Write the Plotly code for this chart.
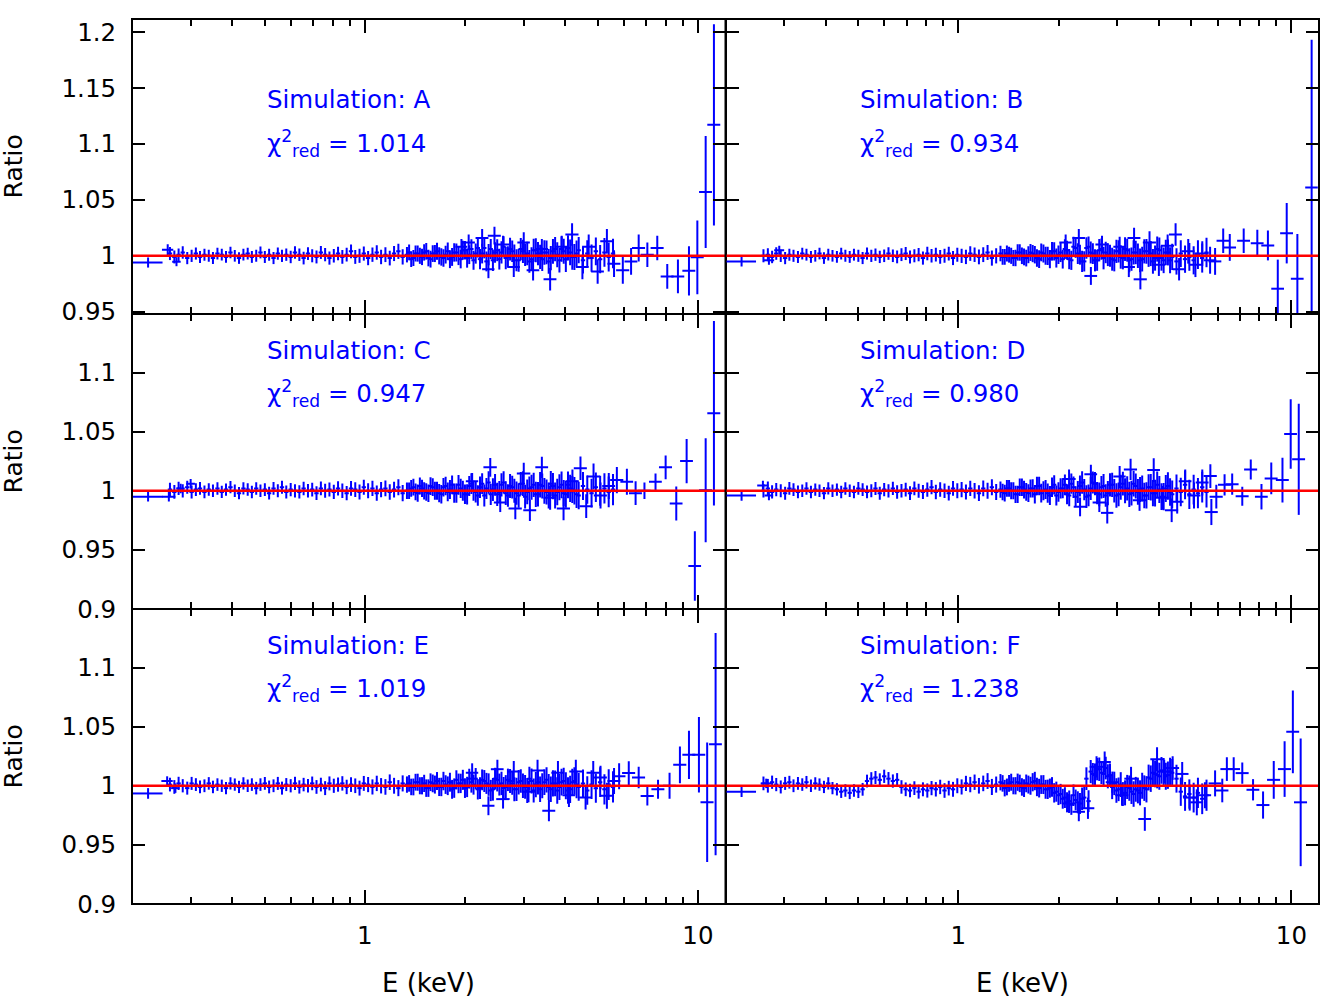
import plotly.graph_objects as go
from plotly.subplots import make_subplots

# ---------------- data ----------------
# fine energy grid (keV), bin centres
ENERGY = [
    0.260, 0.268, 0.276, 0.284, 0.293, 0.302, 0.311, 0.320, 0.330, 0.340,
    0.350, 0.361, 0.372, 0.383, 0.395, 0.407, 0.419, 0.432, 0.445, 0.458,
    0.472, 0.486, 0.501, 0.516, 0.532, 0.548, 0.564, 0.581, 0.599, 0.617,
    0.636, 0.655, 0.675, 0.695, 0.716, 0.738, 0.760, 0.783, 0.807, 0.831,
    0.856, 0.882, 0.909, 0.936, 0.964, 0.993, 1.023, 1.054, 1.086, 1.119,
    1.153, 1.188, 1.224, 1.261, 1.299, 1.338, 1.378, 1.420, 1.463, 1.507,
    1.552, 1.599, 1.647, 1.697, 1.748, 1.801, 1.855, 1.911, 1.969, 2.028,
    2.089, 2.152, 2.217, 2.284, 2.353, 2.424, 2.497, 2.572, 2.649, 2.729,
    2.811, 2.896, 2.983, 3.073, 3.166, 3.261, 3.359, 3.460, 3.564, 3.671,
    3.782, 3.896, 4.013, 4.134, 4.258, 4.386, 4.518, 4.654, 4.794, 4.938,
    5.087, 5.240, 5.397, 5.560,
]
BIN_HALF_WIDTH_FRAC = 0.015

FINE_ERR = [
    0.0058, 0.0058, 0.0056, 0.0056, 0.0055, 0.0055, 0.0054, 0.0054, 0.0054, 0.0053,
    0.0053, 0.0053, 0.0052, 0.0052, 0.0052, 0.0052, 0.0052, 0.0052, 0.0053, 0.0053,
    0.0053, 0.0053, 0.0054, 0.0054, 0.0054, 0.0055, 0.0055, 0.0055, 0.0056, 0.0056,
    0.0056, 0.0057, 0.0057, 0.0058, 0.0058, 0.0058, 0.0059, 0.0059, 0.0060, 0.0060,
    0.0061, 0.0061, 0.0062, 0.0062, 0.0063, 0.0063, 0.0064, 0.0064, 0.0065, 0.0065,
    0.0066, 0.0066, 0.0067, 0.0068, 0.0068, 0.0069, 0.0070, 0.0071, 0.0072, 0.0073,
    0.0074, 0.0075, 0.0076, 0.0078, 0.0079, 0.0080, 0.0082, 0.0083, 0.0085, 0.0086,
    0.0088, 0.0090, 0.0091, 0.0093, 0.0095, 0.0096, 0.0098, 0.0099, 0.0100, 0.0101,
    0.0102, 0.0103, 0.0104, 0.0105, 0.0106, 0.0107, 0.0108, 0.0109, 0.0110, 0.0111,
    0.0112, 0.0113, 0.0114, 0.0115, 0.0116, 0.0117, 0.0118, 0.0120, 0.0122, 0.0124,
    0.0126, 0.0128, 0.0130, 0.0132,
]

RATIO_A = [
    1.002, 0.999, 1.001, 1.003, 0.998, 1.000, 1.002, 0.999, 1.001, 1.000,
    0.998, 1.002, 1.001, 0.999, 1.003, 1.000, 0.998, 1.001, 1.002, 0.999,
    1.000, 1.003, 0.999, 1.001, 0.998, 1.002, 1.000, 1.001, 0.999, 1.003,
    1.001, 0.998, 1.002, 1.000, 0.999, 1.003, 1.001, 0.998, 1.000, 1.002,
    0.999, 1.001, 1.004, 0.999, 1.000, 1.002, 0.998, 1.001, 1.003, 0.999,
    1.001, 0.998, 1.002, 1.004, 0.999, 1.001, 0.997, 1.002, 1.000, 1.003,
    0.998, 1.002, 1.004, 0.999, 1.001, 0.997, 1.003, 1.000, 1.005, 0.998,
    1.006, 1.002, 0.997, 1.007, 1.001, 0.996, 1.005, 1.003, 0.998, 1.006,
    1.000, 0.996, 1.004, 1.002, 0.997, 1.005, 0.999, 1.003, 0.995, 1.004,
    1.001, 1.006, 0.997, 1.003, 0.999, 1.005, 0.996, 1.002, 0.998, 1.004,
    0.997, 1.003, 0.999, 1.002,
]
RATIO_B = [
    1.000, 1.001, 0.999, 1.002, 1.000, 0.998, 1.001, 1.000, 0.999, 1.002,
    1.001, 0.999, 1.000, 1.002, 0.998, 1.001, 1.000, 0.999, 1.002, 1.000,
    0.999, 1.001, 1.000, 0.998, 1.002, 1.000, 1.001, 0.999, 1.000, 1.002,
    1.000, 0.999, 1.001, 1.002, 0.999, 1.000, 1.001, 0.998, 1.002, 1.000,
    1.001, 0.999, 1.000, 1.002, 0.998, 1.001, 1.000, 0.999, 1.002, 1.001,
    0.999, 1.001, 1.003, 0.998, 1.000, 1.002, 0.999, 1.001, 0.998, 1.003,
    1.000, 0.998, 1.003, 1.001, 0.997, 1.002, 1.000, 1.004, 0.998, 1.003,
    1.006, 0.997, 1.008, 1.002, 0.995, 1.007, 1.003, 0.996, 1.005, 0.998,
    1.001, 0.997, 1.004, 0.999, 1.006, 0.996, 1.003, 1.000, 0.997, 1.004,
    1.002, 0.998, 1.005, 0.996, 1.003, 0.999, 0.995, 1.002, 0.997, 0.999,
    0.996, 1.001, 0.998, 1.003,
]
RATIO_C = [
    1.001, 0.999, 1.002, 1.000, 1.003, 0.999, 1.001, 1.002, 0.999, 1.001,
    1.000, 1.002, 0.999, 1.001, 1.003, 1.000, 0.998, 1.002, 1.001, 0.999,
    1.002, 1.000, 1.001, 0.998, 1.002, 1.000, 1.003, 0.999, 1.001, 1.000,
    0.999, 1.002, 1.000, 1.001, 0.998, 1.002, 1.000, 1.001, 0.999, 1.002,
    1.000, 0.998, 1.002, 1.001, 0.999, 1.003, 1.000, 1.002, 0.998, 1.001,
    1.002, 0.999, 1.001, 1.003, 0.998, 1.000, 1.002, 0.999, 1.004, 1.000,
    0.998, 1.003, 1.000, 0.997, 1.004, 1.001, 0.998, 1.005, 1.000, 0.997,
    1.006, 0.999, 1.003, 0.996, 1.007, 1.001, 0.997, 1.005, 0.998, 1.004,
    1.000, 0.996, 1.006, 0.999, 1.003, 0.997, 1.005, 1.000, 0.996, 1.004,
    0.999, 1.005, 0.997, 1.002, 1.000, 0.996, 1.004, 1.001, 0.998, 1.003,
    1.000, 1.002, 0.999, 1.001,
]
RATIO_D = [
    1.000, 1.002, 0.999, 1.001, 1.000, 0.998, 1.002, 1.001, 0.999, 1.000,
    1.002, 0.999, 1.001, 1.000, 0.998, 1.002, 1.000, 1.001, 0.999, 1.002,
    1.000, 0.999, 1.002, 1.001, 0.999, 1.000, 1.002, 0.998, 1.001, 1.000,
    1.002, 0.999, 1.000, 1.001, 0.998, 1.002, 1.000, 0.999, 1.001, 1.003,
    0.999, 1.001, 1.000, 0.998, 1.002, 1.000, 1.001, 0.999, 1.002, 1.000,
    0.998, 1.002, 1.000, 1.003, 0.999, 1.001, 0.998, 1.002, 1.000, 0.997,
    1.003, 0.999, 1.002, 0.997, 1.004, 1.000, 0.998, 1.003, 0.996, 1.002,
    1.005, 0.996, 1.003, 0.999, 1.007, 0.995, 1.002, 1.006, 0.997, 1.004,
    0.998, 1.005, 0.996, 1.003, 1.000, 0.997, 1.006, 0.999, 1.002, 0.996,
    1.003, 0.998, 1.001, 0.995, 1.004, 0.997, 1.002, 0.999, 1.005, 0.997,
    1.001, 0.998, 1.003, 0.999,
]
RATIO_E = [
    1.001, 0.999, 1.002, 1.000, 0.998, 1.002, 1.001, 0.999, 1.000, 1.002,
    0.999, 1.001, 1.000, 0.998, 1.002, 1.001, 0.999, 1.002, 1.000, 1.001,
    0.998, 1.001, 1.002, 0.999, 1.000, 1.002, 0.998, 1.001, 1.000, 1.002,
    0.999, 1.001, 1.000, 1.002, 0.999, 1.001, 0.998, 1.002, 1.000, 1.001,
    1.002, 0.999, 1.001, 1.000, 0.998, 1.002, 1.001, 0.999, 1.002, 1.000,
    0.999, 1.003, 1.000, 0.998, 1.002, 1.001, 0.999, 1.003, 1.000, 1.002,
    0.998, 1.002, 1.004, 0.999, 1.001, 1.003, 0.998, 1.002, 1.005, 0.999,
    1.003, 1.006, 0.998, 1.004, 1.001, 0.997, 1.005, 1.002, 0.999, 1.004,
    0.997, 1.003, 1.000, 0.996, 1.004, 1.001, 0.997, 1.003, 0.999, 1.002,
    0.996, 1.003, 1.000, 0.997, 1.004, 0.999, 1.002, 0.996, 1.001, 0.998,
    1.003, 0.997, 1.001, 0.999,
]
RATIO_F = [
    1.002, 1.000, 1.003, 1.001, 0.999, 1.002, 1.003, 1.000, 1.002, 1.001,
    1.003, 1.000, 1.002, 1.001, 0.999, 1.002, 0.998, 0.997, 0.995, 0.996,
    0.994, 0.996, 0.995, 0.997, 1.004, 1.006, 1.007, 1.005, 1.008, 1.006,
    1.004, 1.005, 0.999, 0.997, 0.996, 0.998, 0.995, 0.997, 0.996, 0.998,
    0.997, 0.999, 0.996, 0.998, 0.997, 1.000, 0.999, 1.002, 1.001, 1.003,
    1.000, 1.002, 1.004, 0.999, 1.001, 1.003, 0.998, 1.002, 1.000, 1.003,
    0.999, 1.002, 1.000, 1.004, 0.998, 1.001, 0.997, 0.999, 0.995, 0.993,
    0.990, 0.987, 0.992, 0.986, 0.989, 1.006, 1.012, 1.009, 1.014, 1.010,
    1.008, 0.999, 0.996, 1.001, 0.994, 0.998, 0.993, 0.996, 1.000, 0.997,
    1.006, 1.010, 1.008, 1.012, 1.009, 1.011, 1.006, 0.995, 0.991, 0.993,
    0.990, 0.994, 0.989, 0.992,
]

# second overlapping spectrum in the 1.3-4.4 keV range
ENERGY2 = [
    1.358, 1.399, 1.441, 1.485, 1.529, 1.575, 1.623, 1.672,
    1.722, 1.774, 1.828, 1.883, 1.940, 1.998, 2.058, 2.120,
    2.184, 2.250, 2.318, 2.388, 2.460, 2.534, 2.610, 2.689,
    2.770, 2.853, 2.939, 3.028, 3.119, 3.213, 3.310, 3.409,
    3.512, 3.617, 3.726, 3.839, 3.954, 4.073, 4.196, 4.322,
]
ERR2 = [
    0.0070, 0.0071, 0.0072, 0.0073, 0.0074, 0.0075, 0.0076, 0.0077,
    0.0078, 0.0079, 0.0080, 0.0081, 0.0082, 0.0083, 0.0084, 0.0085,
    0.0086, 0.0088, 0.0089, 0.0090, 0.0092, 0.0093, 0.0094, 0.0095,
    0.0096, 0.0098, 0.0099, 0.0100, 0.0101, 0.0102, 0.0104, 0.0105,
    0.0106, 0.0108, 0.0109, 0.0110, 0.0112, 0.0113, 0.0114, 0.0116,
]
RATIO2_A = [
    1.003, 0.998, 1.002, 0.999, 1.004, 0.997, 1.002, 1.000,
    0.998, 1.004, 0.999, 1.003, 0.997, 1.005, 1.001, 0.996,
    1.007, 1.002, 0.995, 1.006, 1.003, 0.997, 1.008, 0.999,
    1.004, 0.996, 1.006, 1.001, 0.995, 1.005, 1.002, 0.997,
    1.003, 0.998, 1.006, 0.996, 1.004, 1.007, 0.999, 1.002,
]
RATIO2_B = [
    0.999, 1.002, 1.000, 0.998, 1.003, 0.999, 1.001, 1.002,
    0.998, 1.003, 1.000, 0.997, 1.004, 1.001, 0.997, 1.005,
    0.996, 1.007, 1.001, 0.995, 1.008, 1.002, 0.996, 1.006,
    1.003, 1.000, 0.996, 1.004, 0.998, 1.005, 0.997, 1.003,
    0.996, 1.004, 1.001, 0.995, 1.006, 0.998, 1.003, 0.996,
]
RATIO2_C = [
    1.000, 1.003, 0.998, 1.002, 0.999, 1.004, 1.000, 0.998,
    1.003, 0.999, 1.005, 0.998, 1.002, 0.997, 1.004, 1.000,
    0.996, 1.006, 1.002, 0.997, 1.005, 0.999, 1.007, 0.996,
    1.003, 0.998, 1.006, 0.995, 1.002, 1.005, 0.997, 1.004,
    0.999, 1.006, 0.996, 1.003, 0.998, 1.005, 1.001, 0.997,
]
RATIO2_D = [
    0.999, 1.002, 1.000, 0.997, 1.003, 1.001, 0.998, 1.002,
    1.004, 0.998, 1.001, 0.996, 1.005, 0.999, 1.002, 0.997,
    1.006, 0.995, 1.004, 1.001, 0.996, 1.007, 0.998, 1.003,
    0.996, 1.005, 1.000, 0.997, 1.006, 1.002, 0.998, 1.004,
    1.001, 0.996, 1.003, 0.998, 1.005, 0.995, 1.002, 0.999,
]
RATIO2_E = [
    1.002, 0.999, 1.003, 1.000, 0.998, 1.003, 1.001, 0.999,
    1.004, 1.000, 0.997, 1.005, 1.002, 0.998, 1.006, 1.001,
    0.997, 1.005, 1.002, 0.996, 1.006, 1.001, 0.998, 1.005,
    1.002, 0.997, 1.004, 0.999, 1.006, 0.996, 1.003, 1.000,
    1.005, 0.997, 1.002, 0.999, 1.004, 0.996, 1.003, 1.001,
]
RATIO2_F = [
    1.002, 0.999, 1.003, 1.000, 1.002, 0.998, 1.001, 1.003,
    0.999, 1.001, 0.997, 0.998, 0.994, 0.992, 0.989, 0.986,
    0.984, 0.988, 0.985, 0.990, 0.987, 1.010, 1.014, 1.011,
    1.015, 1.009, 1.002, 0.997, 0.993, 0.999, 0.995, 0.997,
    0.994, 0.998, 1.007, 1.011, 1.009, 1.013, 1.008, 1.012,
]

# coarse / overlapping spectra: (energy, half-width, ratio, error)
TAIL_A = [
    (0.2235, 0.0235, 0.994, 0.0045), (0.256, 0.010, 1.0053, 0.005), (0.272, 0.008, 0.9947, 0.004),
    (1.95, 0.08, 1.008, 0.007), (2.05, 0.09, 1.012, 0.007), (2.25, 0.10, 1.016, 0.008),
    (2.35, 0.10, 0.988, 0.008), (2.45, 0.11, 1.018, 0.008), (2.60, 0.12, 1.010, 0.008),
    (2.80, 0.12, 0.990, 0.009), (3.00, 0.13, 1.012, 0.009), (3.20, 0.14, 0.987, 0.009),
    (3.40, 0.15, 1.006, 0.009), (3.60, 0.16, 0.979, 0.010), (3.90, 0.17, 1.008, 0.010),
    (4.19, 0.19, 1.019, 0.010), (4.50, 0.20, 0.990, 0.011), (4.70, 0.21, 1.008, 0.011),
    (5.00, 0.22, 0.986, 0.011), (5.33, 0.24, 1.013, 0.011), (5.60, 0.25, 0.993, 0.012),
    (5.95, 0.27, 0.987, 0.012), (6.30, 0.28, 0.995, 0.012), (6.64, 0.30, 1.007, 0.012),
    (7.05, 0.32, 1.001, 0.011), (7.55, 0.34, 1.007, 0.011), (8.09, 0.36, 0.9816, 0.011),
    (8.71, 0.39, 0.9816, 0.015), (9.40, 0.42, 0.9866, 0.022), (9.96, 0.45, 0.9986, 0.033),
    (10.55, 0.47, 1.057, 0.050), (11.17, 0.50, 1.117, 0.090),
]
TAIL_B = [
    (0.2235, 0.0235, 0.995, 0.0045), (0.270, 0.010, 0.996, 0.004), (0.290, 0.010, 1.005, 0.004),
    (2.10, 0.09, 1.012, 0.007), (2.30, 0.10, 1.016, 0.008), (2.50, 0.11, 0.982, 0.008),
    (2.70, 0.12, 1.010, 0.008), (3.05, 0.13, 1.008, 0.009), (3.25, 0.14, 0.990, 0.009),
    (3.37, 0.15, 1.016, 0.009), (3.52, 0.16, 0.979, 0.009), (3.75, 0.17, 1.012, 0.010),
    (4.00, 0.18, 0.992, 0.010), (4.25, 0.19, 1.009, 0.010), (4.49, 0.20, 1.019, 0.010),
    (4.60, 0.20, 0.988, 0.010), (4.90, 0.22, 1.004, 0.011), (5.15, 0.23, 0.992, 0.011),
    (5.40, 0.24, 1.002, 0.011), (5.70, 0.25, 0.996, 0.012), (5.90, 0.26, 0.995, 0.012),
    (6.24, 0.28, 1.0134, 0.011), (6.53, 0.29, 1.0075, 0.012), (7.19, 0.32, 1.0134, 0.011),
    (7.90, 0.35, 1.0113, 0.012), (8.50, 0.38, 1.0093, 0.0134), (9.10, 0.40, 0.9706, 0.026),
    (9.68, 0.43, 1.0202, 0.027), (10.42, 0.46, 0.9795, 0.040), (11.50, 0.50, 1.061, 0.132),
]
TAIL_C = [
    (0.2235, 0.0235, 0.9949, 0.004), (0.258, 0.012, 0.995, 0.004), (0.280, 0.008, 1.002, 0.004),
    (0.300, 0.009, 1.006, 0.004),
    (2.10, 0.09, 1.008, 0.007), (2.38, 0.11, 1.0198, 0.008), (2.55, 0.11, 0.990, 0.008),
    (2.83, 0.13, 0.985, 0.009), (3.00, 0.14, 1.0147, 0.009), (3.13, 0.14, 0.9835, 0.009),
    (3.40, 0.15, 1.0198, 0.009), (3.60, 0.16, 0.994, 0.010), (3.95, 0.18, 0.985, 0.010),
    (4.20, 0.19, 1.008, 0.010), (4.44, 0.20, 1.019, 0.010), (4.62, 0.21, 0.987, 0.010),
    (4.86, 0.22, 1.012, 0.011), (5.10, 0.23, 0.996, 0.011), (5.40, 0.24, 1.004, 0.011),
    (5.71, 0.26, 1.009, 0.011), (6.12, 0.27, 1.0076, 0.011), (6.50, 0.29, 0.998, 0.010),
    (6.91, 0.30, 1.000, 0.007), (7.46, 0.33, 1.0076, 0.007), (8.00, 0.36, 1.0198, 0.010),
    (8.61, 0.38, 0.9892, 0.0144), (9.25, 0.41, 1.0251, 0.0187), (9.79, 0.43, 0.9363, 0.0294),
    (10.55, 0.47, 1.0005, 0.044), (11.17, 0.50, 1.0656, 0.078),
]
TAIL_D = [
    (0.2235, 0.0235, 0.996, 0.0045), (0.259, 0.010, 1.0045, 0.004), (0.270, 0.008, 0.996, 0.004),
    (2.15, 0.10, 1.010, 0.008), (2.32, 0.10, 0.9864, 0.008), (2.50, 0.11, 1.014, 0.008),
    (2.65, 0.12, 0.990, 0.008), (2.80, 0.12, 0.9813, 0.009), (3.05, 0.13, 1.012, 0.009),
    (3.29, 0.15, 1.018, 0.009), (3.50, 0.16, 0.992, 0.009), (3.86, 0.17, 1.0175, 0.010),
    (4.10, 0.18, 0.994, 0.010), (4.37, 0.20, 0.9835, 0.010), (4.54, 0.20, 0.9907, 0.010),
    (4.80, 0.21, 1.008, 0.010), (5.10, 0.23, 0.996, 0.011), (5.40, 0.24, 1.007, 0.011),
    (5.71, 0.26, 1.0124, 0.010), (5.75, 0.26, 0.982, 0.011), (5.95, 0.27, 0.995, 0.010),
    (6.30, 0.28, 1.005, 0.009), (6.64, 0.30, 1.0056, 0.009), (7.12, 0.32, 0.9954, 0.008),
    (7.55, 0.34, 1.018, 0.0085), (8.13, 0.36, 0.995, 0.0108), (8.70, 0.39, 1.0104, 0.0134),
    (9.40, 0.42, 1.009, 0.019), (9.95, 0.44, 1.048, 0.0294), (10.52, 0.47, 1.0266, 0.047),
]
TAIL_E = [
    (0.2235, 0.0235, 0.9935, 0.0045), (0.255, 0.010, 1.004, 0.004), (0.270, 0.008, 0.998, 0.004),
    (2.10, 0.09, 1.011, 0.008), (2.35, 0.10, 0.9831, 0.008), (2.50, 0.11, 1.014, 0.008),
    (2.60, 0.12, 0.9887, 0.008), (2.80, 0.12, 1.012, 0.009), (3.10, 0.14, 0.995, 0.009),
    (3.30, 0.15, 1.013, 0.009), (3.57, 0.16, 0.9789, 0.009), (3.80, 0.17, 1.011, 0.010),
    (4.10, 0.18, 0.992, 0.010), (4.30, 0.19, 1.012, 0.010), (4.60, 0.20, 0.990, 0.010),
    (4.85, 0.22, 1.011, 0.010), (5.10, 0.23, 1.007, 0.010), (5.33, 0.24, 0.9916, 0.011),
    (5.60, 0.25, 1.004, 0.011), (5.80, 0.26, 1.008, 0.011), (6.20, 0.28, 1.0107, 0.010),
    (6.64, 0.30, 1.007, 0.009), (7.05, 0.32, 0.9913, 0.008), (7.59, 0.34, 0.997, 0.008),
    (8.22, 0.37, 1.000, 0.011), (8.83, 0.40, 1.0177, 0.0155), (9.40, 0.42, 1.0262, 0.0204),
    (10.07, 0.45, 1.0262, 0.032), (10.66, 0.48, 0.986, 0.0505), (11.30, 0.50, 1.0352, 0.094),
]
TAIL_F = [
    (0.2235, 0.0235, 0.995, 0.0045), (0.265, 0.010, 1.002, 0.004),
    (2.15, 0.10, 0.985, 0.008), (2.30, 0.10, 0.978, 0.008), (2.45, 0.11, 0.981, 0.009),
    (2.60, 0.12, 1.016, 0.009), (2.75, 0.12, 1.020, 0.009), (2.90, 0.13, 1.003, 0.009),
    (3.10, 0.14, 0.992, 0.009), (3.30, 0.15, 1.006, 0.010), (3.63, 0.16, 0.9719, 0.010),
    (3.95, 0.18, 1.0225, 0.010), (4.15, 0.19, 1.012, 0.010), (4.40, 0.20, 1.015, 0.010),
    (4.70, 0.21, 1.010, 0.010), (4.95, 0.22, 0.990, 0.011), (5.20, 0.23, 0.986, 0.011),
    (5.50, 0.24, 0.992, 0.011), (5.90, 0.26, 1.002, 0.011), (6.20, 0.27, 0.996, 0.010),
    (6.40, 0.28, 1.0141, 0.010), (6.71, 0.30, 1.0141, 0.010), (7.12, 0.32, 1.0107, 0.009),
    (7.67, 0.34, 0.9966, 0.009), (8.22, 0.37, 0.9837, 0.0115), (8.85, 0.40, 1.005, 0.016),
    (9.54, 0.43, 1.0141, 0.0235), (10.10, 0.45, 1.0456, 0.035), (10.66, 0.48, 0.986, 0.054),
]

LABELS = ["A", "B", "C", "D", "E", "F"]
CHI2 = ["1.014", "0.934", "0.947", "0.980", "1.019", "1.238"]
RATIOS = [RATIO_A, RATIO_B, RATIO_C, RATIO_D, RATIO_E, RATIO_F]
RATIOS2 = [RATIO2_A, RATIO2_B, RATIO2_C, RATIO2_D, RATIO2_E, RATIO2_F]
TAILS = [TAIL_A, TAIL_B, TAIL_C, TAIL_D, TAIL_E, TAIL_F]

TOP_YTICKS = [0.95, 1.0, 1.05, 1.1, 1.15, 1.2]
TOP_YTEXT = ["0.95", "1", "1.05", "1.1", "1.15", "1.2"]
LOW_YTICKS = [0.9, 0.95, 1.0, 1.05, 1.1]
LOW_YTEXT = ["0.9", "0.95", "1", "1.05", "1.1"]
XTICKS = [1, 10]
XTEXT = ["1", "10"]
XMINOR = [0.3, 0.4, 0.5, 0.6, 0.7, 0.8, 0.9, 2, 3, 4, 5, 6, 7, 8, 9]

# ---------------- figure ----------------
BLUE = "#0000ff"
RED = "#ff0000"
FONT = "DejaVu Sans"


def err_trace(x, dx, y, dy):
    return go.Scatter(
        x=x, y=y, mode="markers",
        marker=dict(size=1, color=BLUE),
        error_x=dict(type="data", array=dx, color=BLUE, thickness=2, width=0),
        error_y=dict(type="data", array=dy, color=BLUE, thickness=2, width=0),
        showlegend=False, hoverinfo="skip")


fig = make_subplots(rows=3, cols=2, horizontal_spacing=0, vertical_spacing=0)

for i in range(6):
    r, c = i // 2 + 1, i % 2 + 1
    ratio = RATIOS[i]
    ratio2 = RATIOS2[i]
    assert len(ratio) == len(ENERGY) and len(ratio2) == len(ENERGY2)
    fig.add_trace(err_trace(ENERGY, [e * BIN_HALF_WIDTH_FRAC for e in ENERGY], ratio, FINE_ERR),
                  row=r, col=c)
    fig.add_trace(err_trace(ENERGY2, [e * BIN_HALF_WIDTH_FRAC for e in ENERGY2], ratio2, ERR2),
                  row=r, col=c)
    tail = TAILS[i]
    fig.add_trace(err_trace([t[0] for t in tail], [t[1] for t in tail],
                            [t[2] for t in tail], [t[3] for t in tail]), row=r, col=c)
    fig.add_hline(y=1.0, line=dict(color=RED, width=2.5), row=r, col=c)

    fig.update_xaxes(
        type="log", range=[-0.699, 1.0828],
        tickmode="array", tickvals=XTICKS, ticktext=XTEXT,
        ticks="inside", ticklen=14, tickwidth=2, tickcolor="black",
        minor=dict(tickmode="array", tickvals=XMINOR, ticks="inside", ticklen=7,
                   tickwidth=2, tickcolor="black", showgrid=False),
        showline=True, linewidth=1, linecolor="black", mirror="ticks",
        showgrid=False, zeroline=False,
        showticklabels=(r == 3), ticklabelstandoff=10,
        tickfont=dict(family=FONT, size=24.5, color="black"),
        row=r, col=c)
    if r == 1:
        yr, tv, tt = [0.948, 1.2116], TOP_YTICKS, TOP_YTEXT
    else:
        yr, tv, tt = [0.9, 1.1495], LOW_YTICKS, LOW_YTEXT
    fig.update_yaxes(
        range=yr, tickmode="array", tickvals=tv, ticktext=tt,
        ticks="inside", ticklen=13, tickwidth=2, tickcolor="black",
        showline=True, linewidth=1, linecolor="black", mirror="ticks",
        showgrid=False, zeroline=False,
        showticklabels=(c == 1), ticklabelstandoff=10,
        tickfont=dict(family=FONT, size=24.5, color="black"),
        row=r, col=c)

    idx = i + 1
    xd = "x domain" if idx == 1 else f"x{idx} domain"
    yd = "y domain" if idx == 1 else f"y{idx} domain"
    y1, y2 = (0.726, 0.578) if r == 1 else (0.877, 0.730)
    fig.add_annotation(text=f"Simulation: {LABELS[i]}", xref=xd, yref=yd,
                       x=0.2236, y=y1, xanchor="left", yanchor="middle",
                       showarrow=False, font=dict(family=FONT, size=24.5, color=BLUE))
    fig.add_annotation(text=f"χ<sup>2</sup><sub>red</sub> = {CHI2[i]}", xref=xd, yref=yd,
                       x=0.2236, y=y2, xanchor="left", yanchor="middle",
                       showarrow=False, font=dict(family=FONT, size=24.5, color=BLUE))
    if c == 1:
        fig.add_annotation(text="Ratio", xref="paper", yref=yd, x=-0.0995, y=0.5,
                           xanchor="center", yanchor="middle", textangle=-90,
                           showarrow=False, font=dict(family=FONT, size=25, color="black"))
    if r == 3:
        fig.add_annotation(text="E (keV)", xref=xd, yref="paper", x=0.5, y=-0.0893,
                           xanchor="center", yanchor="middle",
                           showarrow=False, font=dict(family=FONT, size=26, color="black"))

# panel frame
FRAME = dict(color="black", width=2)
fig.add_shape(type="rect", xref="paper", yref="paper", x0=0, y0=0, x1=1, y1=1, line=FRAME)
fig.add_shape(type="line", xref="paper", yref="paper", x0=0.5, y0=0, x1=0.5, y1=1, line=FRAME)
fig.add_shape(type="line", xref="paper", yref="paper", x0=0, y0=1 / 3, x1=1, y1=1 / 3, line=FRAME)
fig.add_shape(type="line", xref="paper", yref="paper", x0=0, y0=2 / 3, x1=1, y1=2 / 3, line=FRAME)

fig.update_layout(
    width=1334, height=1000,
    margin=dict(l=132, r=15, t=19, b=96),
    paper_bgcolor="white", plot_bgcolor="white",
    font=dict(family=FONT, color="black"),
    showlegend=False, hovermode=False,
)

fig.write_html("out.html")
